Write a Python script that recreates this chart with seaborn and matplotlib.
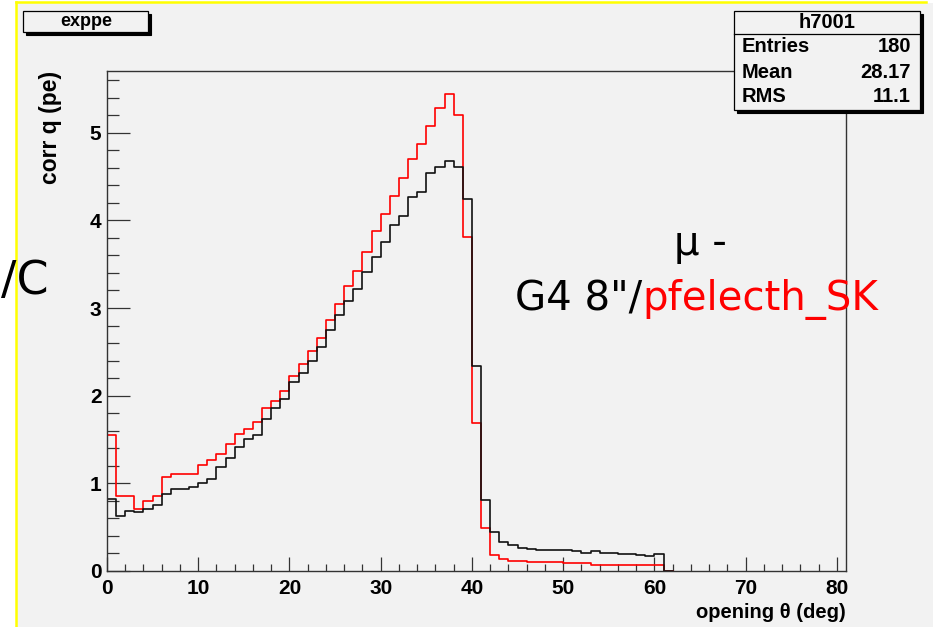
import numpy as np
import pandas as pd
import matplotlib
matplotlib.use("Agg")
import matplotlib.pyplot as plt
from matplotlib.patches import Rectangle
from matplotlib.lines import Line2D
import seaborn as sns

# ---------------- data (bin width 1 deg, bins start at 0) ----------------
bin_edges = list(range(0, 63))
g4_8inch = [0.815, 0.63, 0.685, 0.67, 0.70, 0.75, 0.88, 0.93, 0.93, 0.96,
            1.005, 1.05, 1.18, 1.29, 1.41, 1.50, 1.55, 1.73, 1.86, 1.96,
            2.15, 2.26, 2.40, 2.55, 2.75, 2.915, 3.08, 3.215, 3.41, 3.58,
            3.75, 3.95, 4.05, 4.27, 4.33, 4.54, 4.605, 4.68, 4.61, 4.25,
            2.34, 0.807, 0.445, 0.33, 0.293, 0.263, 0.25, 0.236, 0.236, 0.236,
            0.236, 0.22, 0.206, 0.22, 0.206, 0.20, 0.195, 0.195, 0.18, 0.168,
            0.195, 0.0]
pfelecth_sk = [1.55, 0.856, 0.856, 0.70, 0.795, 0.856, 1.073, 1.10, 1.10, 1.10,
               1.207, 1.267, 1.33, 1.446, 1.564, 1.614, 1.694, 1.854, 1.934, 2.05,
               2.22, 2.36, 2.51, 2.66, 2.86, 3.05, 3.25, 3.42, 3.64, 3.885,
               4.07, 4.28, 4.48, 4.70, 4.87, 5.08, 5.285, 5.44, 5.205, 3.81,
               1.69, 0.484, 0.18, 0.134, 0.114, 0.114, 0.096, 0.096, 0.096, 0.096,
               0.084, 0.084, 0.084, 0.065, 0.065, 0.065, 0.065, 0.065, 0.065, 0.065,
               0.065, 0.0]
x_ticks = [0, 10, 20, 30, 40, 50, 60, 70, 80]
y_ticks = [0, 1, 2, 3, 4, 5]
stats_rows = [("Entries", "180"), ("Mean", "28.17"), ("RMS", "11.1")]

centers = [e + 0.5 for e in bin_edges[:-1]]
df = pd.DataFrame({"theta": centers, "black": g4_8inch, "red": pfelecth_sk})

W, H = 936, 627
fig = plt.figure(figsize=(W / 100, H / 100), dpi=100)
fig.patch.set_facecolor("white")

def fx(px):
    return px / W

def fy(py):
    return 1 - py / H

# canvas background + yellow frame
fig.patches.append(Rectangle((fx(16), 0), fx(933) - fx(16), fy(3), transform=fig.transFigure,
                             facecolor="#f2f2f2", edgecolor="none", zorder=-2))
fig.lines.append(Line2D([fx(16), fx(16)], [0, fy(2)], transform=fig.transFigure,
                        color="#ffff00", lw=1.8, zorder=-1))
fig.lines.append(Line2D([fx(16), fx(926)], [fy(2), fy(2)], transform=fig.transFigure,
                        color="#ffff00", lw=1.8, zorder=-1))

bold = dict(family=["Liberation Sans", "DejaVu Sans"], weight="bold")

ax = fig.add_axes([fx(107), fy(570.7), fx(846) - fx(107), (570.7 - 70.7) / H])
ax.set_facecolor("#f2f2f2")
ax.set_zorder(1)

sns.histplot(data=df, x="theta", weights="red", bins=bin_edges, element="step",
             fill=False, color="#ff0000", lw=1.2, ax=ax)
sns.histplot(data=df, x="theta", weights="black", bins=bin_edges, element="step",
             fill=False, color="#111111", lw=1.2, ax=ax)

ax.set_xlim(0, 81)
ax.set_ylim(0, 5.71)
ax.set_xticks(x_ticks)
ax.set_xticks(np.arange(0, 81, 2), minor=True)
ax.set_yticks(y_ticks)
ax.set_yticks(np.arange(0, 5.71, 0.2), minor=True)
ax.set_xticklabels([str(t) for t in x_ticks])
ax.set_yticklabels([str(t) for t in y_ticks])
for lab in ax.get_xticklabels() + ax.get_yticklabels():
    lab.set_fontfamily(bold["family"])
    lab.set_fontweight("bold")
    lab.set_fontsize(15)
ax.tick_params(axis="x", which="major", direction="in", length=10, width=0.9, pad=6, colors="#333333", labelcolor="black")
ax.tick_params(axis="x", which="minor", direction="in", length=5, width=0.9, colors="#333333")
ax.tick_params(axis="y", which="major", direction="in", length=16.5, width=0.9, pad=4, colors="#333333", labelcolor="black")
ax.tick_params(axis="y", which="minor", direction="in", length=8.5, width=0.9, colors="#333333")
for sp in ax.spines.values():
    sp.set_color("#333333")
    sp.set_linewidth(1.0)
    sp.set_zorder(3)

ax.set_xlabel("opening \u03b8 (deg)", fontsize=14.5, **bold)
ax.xaxis.set_label_coords(1.0, (570.7 - 612) / 500)
ax.xaxis.label.set_ha("right")
ax.xaxis.label.set_va("center")
ax.set_ylabel("corr q (pe)", fontsize=16.5, **bold)
ax.yaxis.set_label_coords((51 - 107) / 739, 1.0)
ax.yaxis.label.set_ha("right")
ax.yaxis.label.set_va("center")

# ---- title box "exppe" ----
def pbox(x0, y0, x1, y1, z=5):
    fig.patches.append(Rectangle((fx(x0 + 3), fy(y1 + 3)), fx(x1) - fx(x0), fy(y0) - fy(y1),
                                 transform=fig.transFigure, facecolor="black",
                                 edgecolor="black", lw=0.8, zorder=z))
    fig.patches.append(Rectangle((fx(x0), fy(y1)), fx(x1) - fx(x0), fy(y0) - fy(y1),
                                 transform=fig.transFigure, facecolor="#f2f2f2",
                                 edgecolor="black", lw=0.9, zorder=z + 0.1))

pbox(23, 11, 148, 32)
fig.text(fx(86), fy(21.5), "exppe", ha="center", va="center", fontsize=13, zorder=7, **bold)

# ---- stats box ----
pbox(734, 11, 920, 110)
fig.lines.append(Line2D([fx(734), fx(920)], [fy(34), fy(34)], transform=fig.transFigure,
                        color="black", lw=0.9, zorder=6))
fig.text(fx(827), fy(22.5), "h7001", ha="center", va="center", fontsize=14.5, zorder=7, **bold)
for i, (k, v) in enumerate(stats_rows):
    yy = 47 + i * 25
    fig.text(fx(742), fy(yy), k, ha="left", va="center", fontsize=14.5, zorder=7, **bold)
    fig.text(fx(911), fy(yy), v, ha="right", va="center", fontsize=14.5, zorder=7, **bold)

# ---- annotations ----
fig.text(fx(700), fy(244), "\u03bc -", ha="center", va="center", fontsize=29, color="black",
         family=["DejaVu Sans"], zorder=8)
fig.text(fx(642), fy(299), "G4 8\"/", ha="right", va="center", fontsize=29, color="black",
         family=["DejaVu Sans"], zorder=8)
fig.text(fx(642), fy(299), "pfelecth_SK", ha="left", va="center", fontsize=29, color="#ff0000",
         family=["DejaVu Sans"], zorder=8)
fig.text(fx(1), fy(282), "/C", ha="left", va="center", fontsize=33, color="black",
         family=["DejaVu Sans"], zorder=8)

fig.savefig("out.png", dpi=100)
